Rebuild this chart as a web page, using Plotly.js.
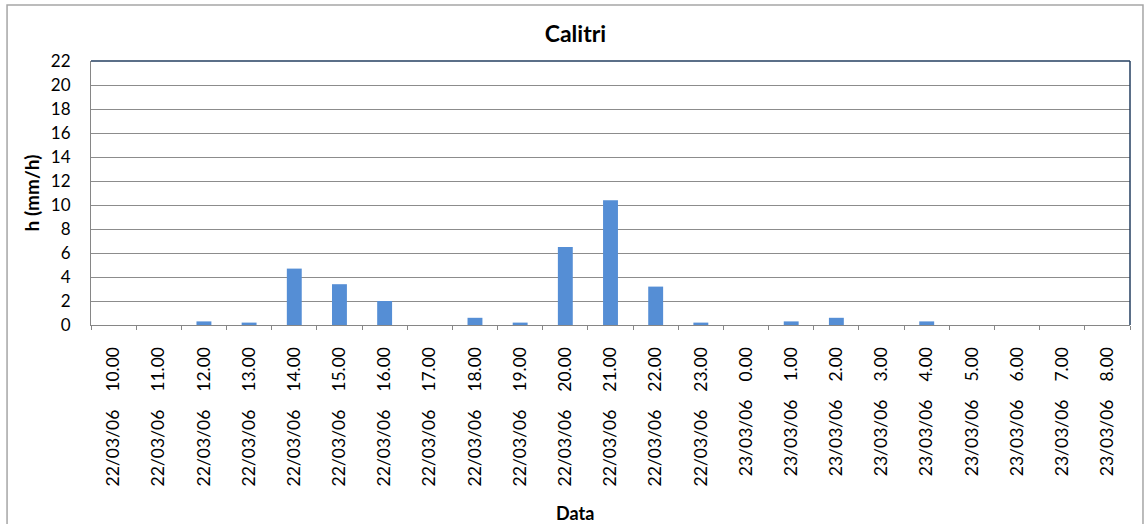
<!DOCTYPE html>
<html>
<head>
<meta charset="utf-8">
<script src="https://cdn.plot.ly/plotly-3.0.1.min.js"></script>
<style>
html,body{margin:0;padding:0;background:#fff;}
#chart{width:1144px;height:524px;}
</style>
</head>
<body>
<div id="chart"></div>
<script>
const dates = ["22/03/06","22/03/06","22/03/06","22/03/06","22/03/06","22/03/06","22/03/06","22/03/06","22/03/06","22/03/06","22/03/06","22/03/06","22/03/06","22/03/06","23/03/06","23/03/06","23/03/06","23/03/06","23/03/06","23/03/06","23/03/06","23/03/06","23/03/06"];
const hours = ["10.00","11.00","12.00","13.00","14.00","15.00","16.00","17.00","18.00","19.00","20.00","21.00","22.00","23.00","0.00","1.00","2.00","3.00","4.00","5.00","6.00","7.00","8.00"];
const rain = [0,0,0.3,0.2,4.7,3.4,2.0,0,0.6,0.2,6.5,10.4,3.2,0.2,0,0.3,0.6,0,0.3,0,0,0,0];
const yTicks = [0,2,4,6,8,10,12,14,16,18,20,22];

const SEP = "\u00a0\u00a0\u00a0\u00a0";
const categories = dates.map((d,i) => d + SEP + hours[i]);
const FONT = "Lato, 'Open Sans', sans-serif";

const trace = {
  type: "bar",
  x: categories,
  y: rain,
  marker: {color: "#558ED5", line: {width: 0}},
  hoverinfo: "x+y"
};

const layout = {
  width: 1144, height: 524,
  margin: {l: 91, r: 14, t: 61, b: 199},
  paper_bgcolor: "#fff", plot_bgcolor: "#fff",
  showlegend: false,
  bargap: 0.67,
  font: {family: FONT, color: "#000", size: 17},
  title: {text: "<b>Calitri</b>", font: {family: FONT, size: 23, color: "#000"}, x: 0.503, xref: "container", y: 0.935, yref: "container", xanchor: "center", yanchor: "middle"},
  xaxis: {
    type: "category",
    tickangle: -90,
    tickson: "boundaries",
    ticks: "outside", ticklen: 4, tickcolor: "#868686", tickwidth: 1,
    showline: true, linecolor: "#868686", linewidth: 1,
    showgrid: false, zeroline: false,
    tickfont: {family: FONT, size: 17.5, color: "#000"},
    ticklabelstandoff: 14,
    fixedrange: true
  },
  yaxis: {
    range: [0, 22],
    tickvals: yTicks,
    ticktext: yTicks.map(String),
    showline: true, linecolor: "#868686", linewidth: 1,
    showgrid: true, gridcolor: "#8C8C8C", gridwidth: 1,
    zeroline: false,
    ticks: "",
    tickfont: {family: FONT, size: 17, color: "#000"},
    ticklabelstandoff: 16,
    title: {text: "<b>h (mm/h)</b>", font: {family: FONT, size: 19, color: "#000"}, standoff: 6},
    fixedrange: true
  },
  annotations: [
    {text: "<b>Data</b>", xref: "paper", yref: "paper", x: 0.4658, y: -0.712, xanchor: "center", yanchor: "middle", showarrow: false, font: {family: FONT, size: 18, color: "#000"}}
  ],
  shapes: [
    {type: "rect", xref: "paper", yref: "paper", x0: -0.0808, x1: 1.0125, y0: -0.8, y1: 1.212, line: {color: "#A6A6A6", width: 1.5}, layer: "below"},
    {type: "line", xref: "paper", yref: "paper", x0: 0, x1: 1, y0: 1, y1: 1, line: {color: "#243F60", width: 1.5}},
    {type: "line", xref: "paper", yref: "paper", x0: 1, x1: 1, y0: 0, y1: 1, line: {color: "#243F60", width: 1.5}}
  ]
};

Plotly.newPlot("chart", [trace], layout, {displayModeBar: false, staticPlot: true});
</script>
</body>
</html>
